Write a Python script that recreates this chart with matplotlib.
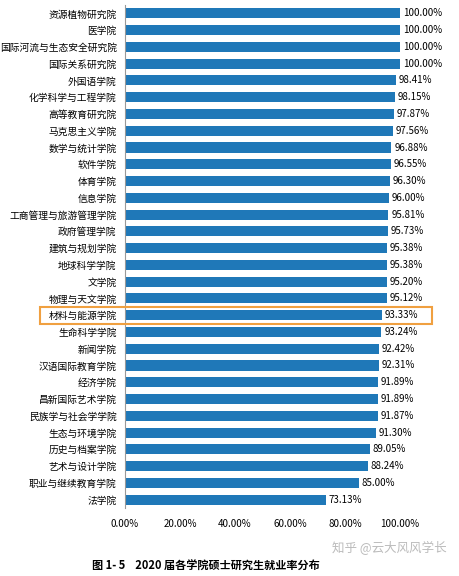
import matplotlib
matplotlib.use("Agg")
import matplotlib.pyplot as plt
from matplotlib.patches import Rectangle
import matplotlib.transforms as mtransforms

plt.rcParams['font.family'] = ['Noto Sans CJK SC', 'DejaVu Sans']

categories = ["资源植物研究院","医学院","国际河流与生态安全研究院","国际关系研究院","外国语学院",
"化学科学与工程学院","高等教育研究院","马克思主义学院","数学与统计学院","软件学院","体育学院",
"信息学院","工商管理与旅游管理学院","政府管理学院","建筑与规划学院","地球科学学院","文学院",
"物理与天文学院","材料与能源学院","生命科学学院","新闻学院","汉语国际教育学院","经济学院",
"昌新国际艺术学院","民族学与社会学学院","生态与环境学院","历史与档案学院","艺术与设计学院",
"职业与继续教育学院","法学院"]
values = [100.00,100.00,100.00,100.00,98.41,98.15,97.87,97.56,96.88,96.55,96.30,96.00,95.81,95.73,
95.38,95.38,95.20,95.12,93.33,93.24,92.42,92.31,91.89,91.89,91.87,91.30,89.05,88.24,85.00,73.13]
xticks = [0,20,40,60,80,100]
highlight = "材料与能源学院"

fig = plt.figure(figsize=(4.6,5.76), dpi=100)
ax = fig.add_axes([125/460, 1-508/576, 275/460, 503/576])
y = list(range(len(categories)))
ax.barh(y, values, height=0.6, color="#1f78b8")
ax.set_ylim(len(categories)-0.5, -0.5)
ax.set_xlim(0, 100)
ax.set_yticks(y)
ax.set_yticklabels(categories, fontsize=7)
ax.tick_params(axis='y', length=0, pad=6)
ax.set_xticks(xticks)
ax.set_xticklabels([f"{v:.2f}%" for v in xticks], fontsize=7)
ax.tick_params(axis='x', length=0, pad=8)
for s in ['top','right','bottom']:
    ax.spines[s].set_visible(False)
ax.spines['left'].set_color('#999999')
for yi, v in zip(y, values):
    ax.text(v+1, yi, f"{v:.2f}%", va='center', ha='left', fontsize=7, clip_on=False)
hi = categories.index(highlight)
tr = mtransforms.blended_transform_factory(fig.transFigure, ax.transData)
fig.patches.append(Rectangle((40/460, hi+0.5), 392/460, -1.0, transform=tr, fill=False,
                             edgecolor="#f0a040", linewidth=1.5))
fig.text(0.2, 1-566/576, "图 1- 5    2020 届各学院硕士研究生就业率分布", fontsize=8,
         fontweight='bold', va='center')
fig.text(0.97, 1-548/576, "知乎 @云大风风学长", fontsize=9, color="#bbbbbb", ha='right', va='center')
fig.savefig("out.png", dpi=100, facecolor='white')
